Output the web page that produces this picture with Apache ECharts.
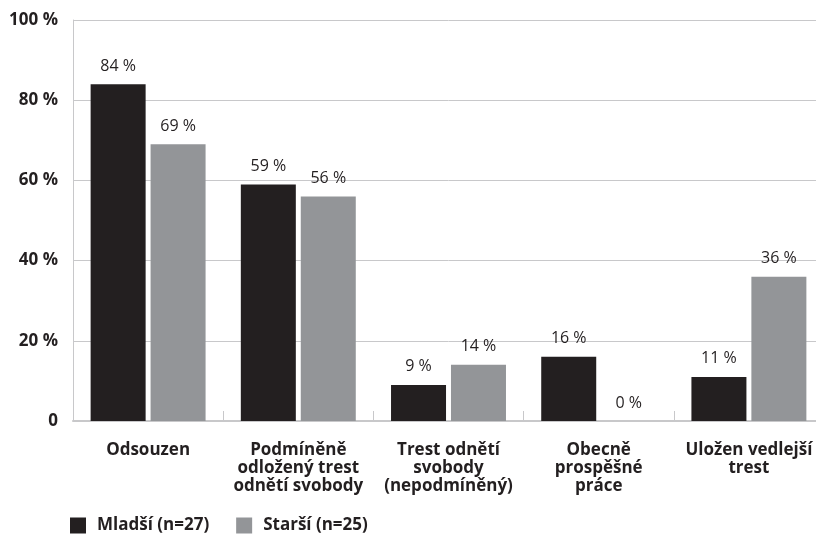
<!DOCTYPE html>
<html>
<head>
<meta charset="utf-8">
<script src="https://cdn.jsdelivr.net/npm/echarts@6/dist/echarts.min.js"></script>
<style>
  html, body { margin: 0; padding: 0; background: #fff; overflow: hidden; }
  /* the plot runs slightly past the right edge of the page */
  #chart { width: 824px; height: 534px; }
</style>
</head>
<body>
<div id="chart"></div>
<script>
// Sentencing outcomes by age group (percent)
const categories = [
  'Odsouzen',
  'Podmíněně\nodložený trest\nodnětí svobody',
  'Trest odnětí\nsvobody\n(nepodmíněný)',
  'Obecně\nprospěšné\npráce',
  'Uložen vedlejší\ntrest'
];
const seriesNames = ['Mladší (n=27)', 'Starší (n=25)'];
const mladsi = [84, 59, 9, 16, 11];
const starsi = [69, 56, 14, 0, 36];
const yTicks = [0, 20, 40, 60, 80, 100];

const DARK = '#231f20';
const GREY = '#939598';
const LINE = '#c8c8ca';
const FONT = '"Open Sans", "Noto Sans", sans-serif';

const chart = echarts.init(document.getElementById('chart'), null, { renderer: 'canvas' });

const valueLabel = {
  show: true,
  position: 'top',
  distance: 10,
  color: DARK,
  fontFamily: FONT,
  fontSize: 16,
  formatter: p => p.value + ' %'
};

chart.setOption({
  animation: false,
  backgroundColor: '#fff',
  textStyle: { fontFamily: FONT },
  grid: { left: 73, right: 0, top: 20, bottom: 113 },
  legend: {
    data: seriesNames,
    left: 70,
    top: 517,
    padding: 0,
    itemWidth: 16,
    itemHeight: 16,
    itemGap: 27,
    icon: 'rect',
    textStyle: {
      color: DARK, fontFamily: FONT, fontSize: 17, fontWeight: 'bold',
      padding: [0, 0, 0, 6]
    }
  },
  xAxis: {
    type: 'category',
    data: categories,
    axisLine: { show: true, lineStyle: { color: LINE, width: 2 } },
    axisTick: { show: true, inside: true, length: 10, lineStyle: { color: LINE, width: 1 } },
    axisLabel: {
      interval: 0,
      margin: 20,
      color: DARK,
      fontFamily: FONT,
      fontSize: 17,
      fontWeight: 'bold',
      lineHeight: 18,
      align: 'center'
    }
  },
  yAxis: {
    type: 'value',
    min: yTicks[0],
    max: yTicks[yTicks.length - 1],
    interval: 20,
    axisLine: { show: true, lineStyle: { color: LINE, width: 1 } },
    axisTick: { show: false },
    splitLine: { show: true, lineStyle: { color: LINE, width: 1 } },
    axisLabel: {
      margin: 15,
      color: DARK,
      fontFamily: FONT,
      fontSize: 17,
      fontWeight: 'bold',
      formatter: v => (v === 0 ? '0' : v + ' %')
    }
  },
  series: [
    {
      name: seriesNames[0],
      type: 'bar',
      data: mladsi,
      barWidth: 55,
      barGap: '9%',
      itemStyle: { color: DARK },
      label: valueLabel
    },
    {
      name: seriesNames[1],
      type: 'bar',
      data: starsi,
      barWidth: 55,
      barGap: '9%',
      itemStyle: { color: GREY },
      label: valueLabel
    }
  ]
});
</script>
</body>
</html>
